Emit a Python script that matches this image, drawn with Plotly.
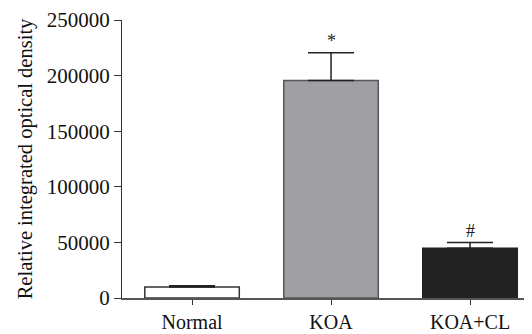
import plotly.graph_objects as go

categories = ["Normal", "KOA", "KOA+CL"]
values = [10000, 195500, 44800]
errors = [1000, 25000, 5000]
marks = ["", "*", "#"]
fill_colors = ["#ffffff", "#a09fa4", "#222222"]
line_colors = ["#333333", "#555555", "#222222"]
y_ticks = [0, 50000, 100000, 150000, 200000, 250000]

font = "Liberation Serif"

fig = go.Figure()
fig.add_trace(go.Bar(
    x=[0, 1, 2], y=values,
    width=0.68,
    marker=dict(color=fill_colors, line=dict(color=line_colors, width=1.5)),
    error_y=dict(type="data", array=errors, arrayminus=[0, 0, 0],
                 symmetric=False, visible=True, color="#222222",
                 thickness=1.5, width=23),
    showlegend=False,
))

for i, (v, e, m) in enumerate(zip(values, errors, marks)):
    if m:
        fig.add_annotation(x=i, y=v + e, text=m, showarrow=False,
                           yanchor="bottom", yshift=0,
                           font=dict(family=font, size=18, color="#222222"))

fig.update_layout(
    width=524, height=326,
    margin=dict(l=114, r=0, t=12, b=36, autoexpand=False),
    paper_bgcolor="white", plot_bgcolor="white",
    font=dict(family=font, size=21, color="#111111"),
)
fig.update_xaxes(
    range=[-0.504, 2.446], automargin=False,
    tickvals=[0, 1, 2], ticktext=categories,
    showline=True, linecolor="#555555", linewidth=1.5,
    ticks="outside", ticklen=5, tickcolor="#333333", tickwidth=1.2,
    showgrid=False, zeroline=False,
    tickfont=dict(family=font, size=20),
)
fig.update_yaxes(
    range=[0, 250000], automargin=False,
    tickvals=y_ticks, ticktext=[str(t) for t in y_ticks],
    showline=True, linecolor="#333333", linewidth=1.2,
    ticks="outside", ticklen=7, tickcolor="#333333", tickwidth=1.2,
    showgrid=False, zeroline=False,
    tickfont=dict(family=font, size=21),
    title=dict(text="Relative integrated optical density",
               font=dict(family=font, size=20.5), standoff=8),
)

fig.write_html("out.html")
